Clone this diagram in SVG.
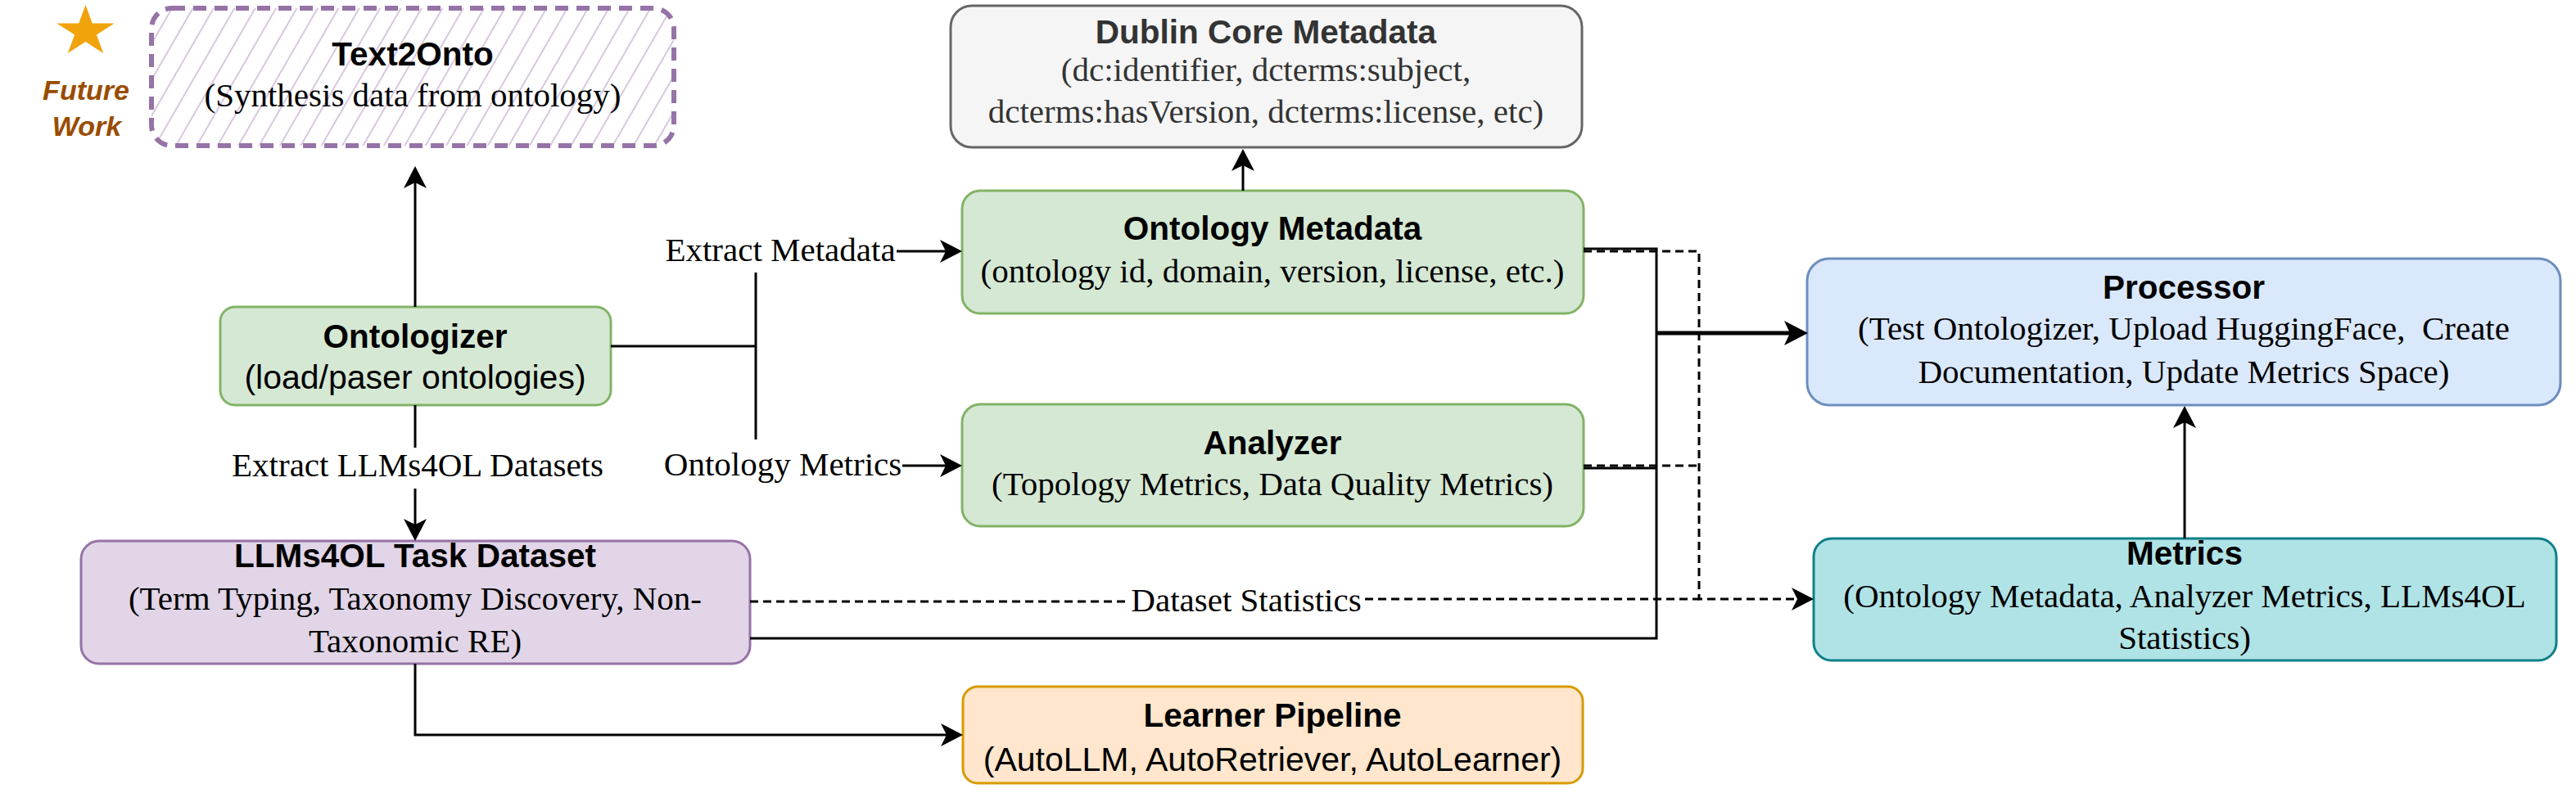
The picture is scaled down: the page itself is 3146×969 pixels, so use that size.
<svg xmlns="http://www.w3.org/2000/svg" width="3146" height="969" viewBox="0 0 3146 969">
<style>
.box{stroke-width:3}
.t{font-family:"Liberation Sans",Arial,sans-serif;font-weight:bold;font-size:40.5px;text-anchor:middle;fill:#000}
.s{font-family:"Liberation Serif","Times New Roman",serif;font-size:41px;text-anchor:middle;fill:#000}
.a{font-family:"Liberation Sans",Arial,sans-serif;font-size:41px;text-anchor:middle;fill:#000}
.ln{fill:none;stroke:#000;stroke-width:3}
.dl{fill:none;stroke:#000;stroke-width:3;stroke-dasharray:10 6}
</style>
<defs>
<marker id="arr" markerUnits="userSpaceOnUse" markerWidth="28" markerHeight="28" refX="7" refY="14" orient="auto">
<path d="M0,0 L27,14 L0,28 L7,14 Z" fill="#000"/>
</marker>
<marker id="arrB" markerUnits="userSpaceOnUse" markerWidth="30" markerHeight="30" refX="7" refY="15" orient="auto">
<path d="M0,0 L29,15 L0,30 L7,15 Z" fill="#000"/>
</marker>
<pattern id="hatch" patternUnits="userSpaceOnUse" width="22" height="22" patternTransform="rotate(30)">
<line x1="11" y1="0" x2="11" y2="22" stroke="#d9c7e0" stroke-width="2"/>
</pattern>
</defs>

<g id="future-work">
<polygon points="104.5,6 112.8,28.6 139.7,28.5 117.9,42.4 126.2,64.9 104.5,51 82.8,64.9 91.1,42.4 69.3,28.5 96.2,28.6" fill="#F0A30A"/>
<text x="105" y="122" font-family="Liberation Sans,Arial,sans-serif" font-weight="bold" font-style="italic" font-size="34" text-anchor="middle" fill="#994C00">Future</text>
<text x="106" y="166" font-family="Liberation Sans,Arial,sans-serif" font-weight="bold" font-style="italic" font-size="34" text-anchor="middle" fill="#994C00">Work</text>
</g>

<g id="text2onto">
<rect x="185" y="10" width="638" height="168" rx="25" fill="url(#hatch)"/>
<rect x="185" y="10" width="638" height="168" rx="25" fill="none" stroke="#9673a6" stroke-width="6" stroke-dasharray="16 10"/>
<text class="t" x="504" y="80">Text2Onto</text>
<text class="s" x="504" y="130">(Synthesis data from ontology)</text>
</g>

<g id="dublin-core">
<rect class="box" x="1161" y="7" width="771" height="173" rx="26" fill="#f5f5f5" stroke="#666666"/>
<text class="t" x="1546" y="53" fill="#333333" style="fill:#333333">Dublin Core Metadata</text>
<text class="s" x="1546" y="99" style="fill:#333333">(dc:identifier, dcterms:subject,</text>
<text class="s" x="1546" y="150" style="fill:#333333">dcterms:hasVersion, dcterms:license, etc)</text>
</g>

<g id="ontologizer">
<rect class="box" x="269" y="375" width="477" height="120" rx="18" fill="#d5e8d4" stroke="#82b366"/>
<text class="t" x="507" y="425">Ontologizer</text>
<text class="a" x="507" y="475">(load/paser ontologies)</text>
</g>

<g id="ontology-metadata">
<rect class="box" x="1175" y="233" width="759" height="150" rx="22" fill="#d5e8d4" stroke="#82b366"/>
<text class="t" x="1554" y="293">Ontology Metadata</text>
<text class="s" x="1554" y="345">(ontology id, domain, version, license, etc.)</text>
</g>

<g id="analyzer">
<rect class="box" x="1175" y="494" width="759" height="149" rx="22" fill="#d5e8d4" stroke="#82b366"/>
<text class="t" x="1554" y="555">Analyzer</text>
<text class="s" x="1554" y="605">(Topology Metrics, Data Quality Metrics)</text>
</g>

<g id="processor">
<rect class="box" x="2207" y="316" width="920" height="179" rx="27" fill="#dae8fc" stroke="#6c8ebf"/>
<text class="t" x="2667" y="365">Processor</text>
<text class="s" x="2667" y="415" style="white-space:pre">(Test Ontologizer, Upload HuggingFace,  Create</text>
<text class="s" x="2667" y="468">Documentation, Update Metrics Space)</text>
</g>

<g id="metrics">
<rect class="box" x="2215" y="658" width="907" height="149" rx="22" fill="#b0e3e6" stroke="#0e8088"/>
<text class="t" x="2668" y="690">Metrics</text>
<text class="s" x="2668" y="742">(Ontology Metadata, Analyzer Metrics, LLMs4OL</text>
<text class="s" x="2668" y="793">Statistics)</text>
</g>

<g id="llms4ol-dataset">
<rect class="box" x="99" y="661" width="817" height="150" rx="22" fill="#e1d5e7" stroke="#9673a6"/>
<text class="t" x="507" y="693">LLMs4OL Task Dataset</text>
<text class="s" x="507" y="745">(Term Typing, Taxonomy Discovery, Non-</text>
<text class="s" x="507" y="797">Taxonomic RE)</text>
</g>

<g id="learner-pipeline">
<rect class="box" x="1176" y="839" width="757" height="118" rx="18" fill="#ffe6cc" stroke="#d79b00"/>
<text class="t" x="1554" y="888">Learner Pipeline</text>
<text class="a" x="1554" y="942">(AutoLLM, AutoRetriever, AutoLearner)</text>
</g>

<g id="connectors">
<path class="ln" d="M507,375 V223" marker-end="url(#arr)"/>
<path class="ln" d="M507,495 V547"/>
<path class="ln" d="M507,597 V641" marker-end="url(#arr)"/>
<text class="s" x="510" y="582">Extract LLMs4OL Datasets</text>

<path class="ln" d="M746,423 H923"/>
<path class="ln" d="M923,333 V537"/>
<text class="s" x="953" y="319">Extract Metadata</text>
<path class="ln" d="M1095,307 H1155" marker-end="url(#arr)"/>
<text class="s" x="956" y="581">Ontology Metrics</text>
<path class="ln" d="M1102,569 H1155" marker-end="url(#arr)"/>

<path class="ln" d="M1518,233 V202" marker-end="url(#arr)"/>

<path class="ln" d="M1934,304 H2023 V780 H916"/>
<path class="ln" d="M1934,572 H2023"/>
<path class="ln" d="M2023,407 H2186" stroke-width="5" style="stroke-width:5" marker-end="url(#arrB)"/>

<path class="dl" d="M1934,307 H2075 V732 H2195" marker-end="url(#arr)"/>
<path class="dl" d="M1934,569 H2075"/>
<path class="dl" d="M916,735 H1378"/>
<path class="dl" d="M1667,732 H2075"/>
<text class="s" x="1522" y="747">Dataset Statistics</text>

<path class="ln" d="M2668,658 V516" marker-end="url(#arr)"/>

<path class="ln" d="M507,811 V898 H1156" marker-end="url(#arr)"/>
</g>
</svg>
